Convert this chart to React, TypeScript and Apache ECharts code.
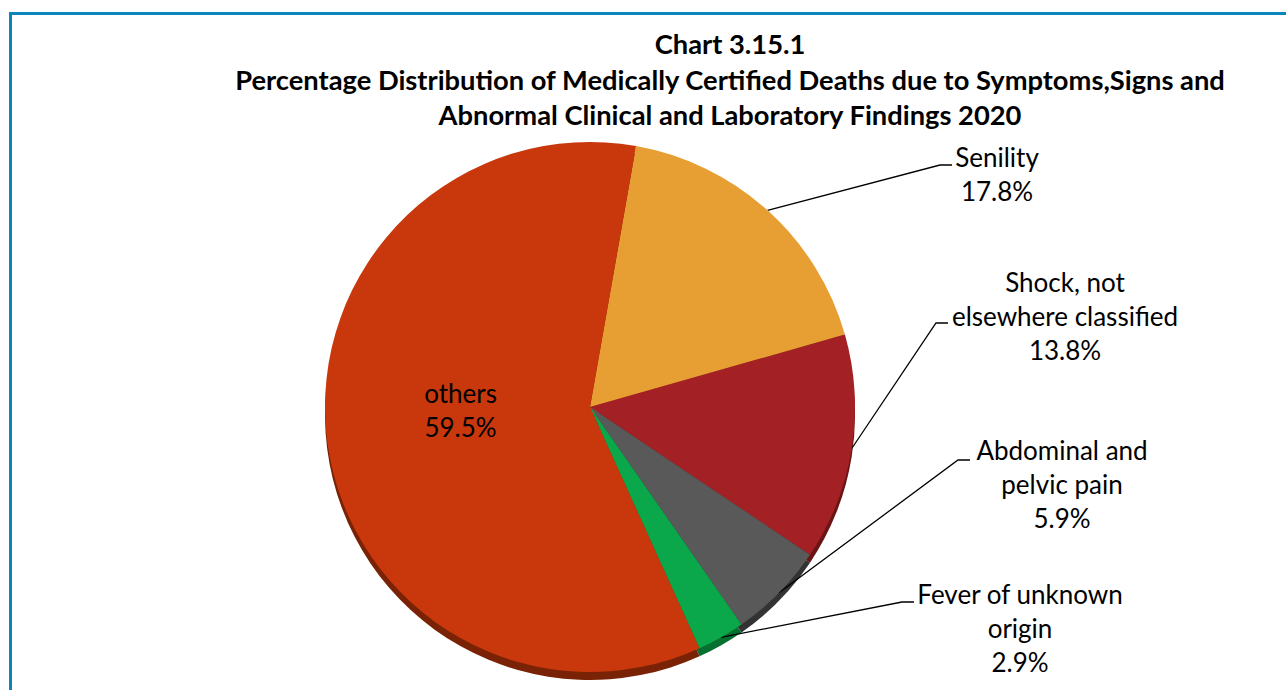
import React, { useEffect, useRef } from "react";
import * as echarts from "echarts";

const titleLines = [
  "Chart 3.15.1",
  "Percentage Distribution of Medically Certified Deaths due to Symptoms,Signs and",
  "Abnormal Clinical and Laboratory Findings 2020",
];

const categories = [
  "Senility",
  "Shock, not\nelsewhere classified",
  "Abdominal and\npelvic pain",
  "Fever of unknown\norigin",
  "others",
];
const values = [17.8, 13.8, 5.9, 2.9, 59.5];
const colors = ["#E79F33", "#A32024", "#595959", "#0AA84A", "#C8380C"];
const sideColors = ["#9c6a20", "#6b1416", "#333333", "#06702f", "#7a2206"];

// label placement: text centre x, text top y, leader anchor (end of horizontal stub)
const labelPlacement: ({ cx: number; top: number; ax: number; ay: number } | null)[] = [
  { cx: 997, top: 140, ax: 952, ay: 165 },
  { cx: 1065, top: 265, ax: 948, ay: 323 },
  { cx: 1062, top: 433, ax: 970, ay: 460 },
  { cx: 1020, top: 577, ax: 914, ay: 602 },
  null,
];

const FONT = "Lato, 'Open Sans', sans-serif";

export default function App() {
  const ref = useRef<HTMLDivElement>(null);
  useEffect(() => {
    if (!ref.current) return;
    const chart = echarts.init(ref.current, null, { renderer: "svg" });
    const data = categories.map((name, i) => ({
      name,
      value: values[i],
      itemStyle: { color: colors[i] },
      label:
        i === 4
          ? { position: "inside" as const, show: true, offset: [5, -14] }
          : { show: true },
      labelLine: { show: i !== 4 },
    }));
    const sideData = categories.map((name, i) => ({
      name,
      value: values[i],
      itemStyle: { color: sideColors[i] },
    }));
    const center = [590, 407];
    const radius = 265;
    chart.setOption({
      animation: false,
      backgroundColor: "#ffffff",
      title: {
        text: titleLines.join("\n"),
        left: 725,
        top: 21,
        textAlign: "center",
        textStyle: {
          fontFamily: FONT,
          fontWeight: "bold",
          fontSize: 27.3,
          lineHeight: 35.5,
          color: "#000",
        },
      },
      graphic: [
        {
          type: "rect",
          shape: { x: 10.5, y: 13.5, width: 1300, height: 700 },
          style: { fill: "none", stroke: "#0A86BD", lineWidth: 3 },
          silent: true,
          z: 0,
        },
      ],
      series: [
        {
          type: "pie",
          silent: true,
          center: [center[0], center[1] + 8],
          radius: radius,
          startAngle: 80,
          clockwise: true,
          label: { show: false },
          labelLine: { show: false },
          data: sideData,
          z: 1,
        },
        {
          type: "pie",
          center,
          radius,
          startAngle: 80,
          clockwise: true,
          avoidLabelOverlap: false,
          label: {
            show: true,
            fontFamily: FONT,
            fontSize: 26,
            lineHeight: 34,
            color: "#000",
            align: "center",
            formatter: (p: any) => `${p.name}\n${p.value.toFixed(1)}%`,
          },
          labelLine: {
            show: true,
            length: 20,
            length2: 10,
            lineStyle: { color: "#000", width: 1.3 },
          },
          labelLayout: (params: any) => {
            const lp = labelPlacement[params.dataIndex];
            if (!lp) return {};
            const pts = params.labelLinePoints;
            const start = pts && pts[0] ? pts[0] : [lp.ax - 100, lp.ay];
            return {
              x: lp.cx,
              y: lp.top,
              align: "center",
              verticalAlign: "top",
              labelLinePoints: [start, [lp.ax - 12, lp.ay], [lp.ax, lp.ay]],
            };
          },
          data,
          z: 2,
        },
      ],
    });
    return () => chart.dispose();
  }, []);
  return (
    <div
      ref={ref}
      style={{ position: "fixed", left: 0, top: 0, width: 1286, height: 690 }}
    />
  );
}
